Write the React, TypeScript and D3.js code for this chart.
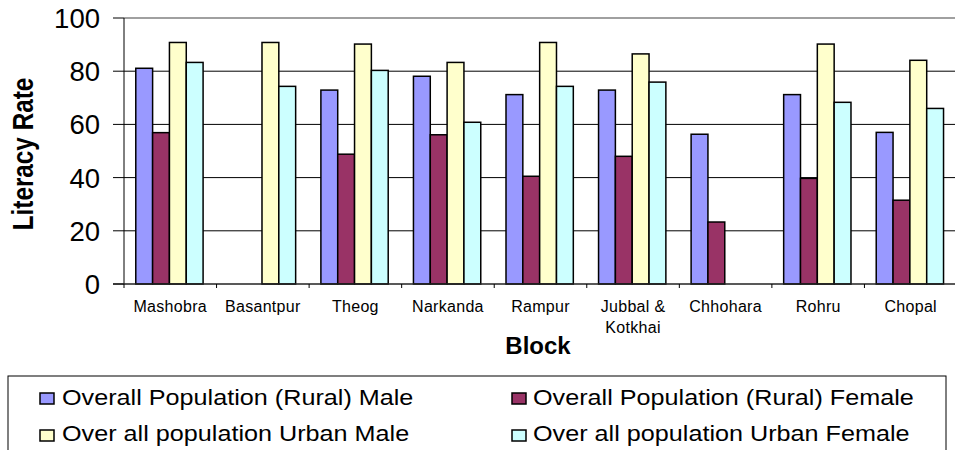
import * as d3 from "d3";
import React from "react";

const blocks = ["Mashobra", "Basantpur", "Theog", "Narkanda", "Rampur", "Jubbal & Kotkhai", "Chhohara", "Rohru", "Chopal"];
const ruralMale = [81.1, null, 72.9, 78.1, 71.2, 72.9, 56.3, 71.2, 57.0];
const ruralFemale = [56.9, null, 48.8, 56.1, 40.5, 48.0, 23.3, 39.7, 31.5];
const urbanMale = [90.8, 90.8, 90.2, 83.3, 90.8, 86.5, null, 90.2, 84.1];
const urbanFemale = [83.3, 74.3, 80.3, 60.8, 74.3, 75.9, null, 68.3, 66.0];
const seriesNames = [
  "Overall Population (Rural) Male",
  "Overall Population (Rural) Female",
  "Over all population Urban Male",
  "Over all population Urban Female",
];
const yTicks = [0, 20, 40, 60, 80, 100];

const colors = ["#9999ff", "#993366", "#ffffcc", "#ccffff"];
const font = "'Liberation Sans', Arial, sans-serif";

const App = () => {
  const width = 955;
  const height = 450;
  const margin = { top: 18, right: -2, bottom: 166, left: 124 };
  const series = [ruralMale, ruralFemale, urbanMale, urbanFemale];

  const xScale = d3
    .scaleBand()
    .domain(blocks)
    .range([margin.left, width - margin.right])
    .padding(0);
  const band = xScale.bandwidth();
  const barW = band / 5.5;
  const inner = d3
    .scaleBand()
    .domain(d3.range(series.length).map(String))
    .range([band * 0.7 / 5.5, band - band * 0.8 / 5.5]);

  const yScale = d3
    .scaleLinear()
    .domain([0, 100])
    .range([height - margin.bottom, margin.top]);

  const x0 = margin.left;
  const x1 = width - margin.right;

  return (
    <svg width={width} height={height} style={{ position: "absolute", left: 0, top: 0, background: "#fff" }}>
      {/* grid */}
      {yTicks.filter((t) => t > 0 && t < 100).map((t) => (
        <line key={t} x1={x0} x2={x1} y1={yScale(t)} y2={yScale(t)} stroke="#000" strokeWidth={1} />
      ))}
      <line x1={x0} x2={x1} y1={yScale(100)} y2={yScale(100)} stroke="#808080" strokeWidth={1.5} />

      {/* bars */}
      {series.map((vals, si) =>
        vals.map((v, i) =>
          v == null ? null : (
            <rect
              key={si + "-" + i}
              x={xScale(blocks[i])! + inner(String(si))!}
              y={yScale(v)}
              width={barW}
              height={yScale(0) - yScale(v)}
              fill={colors[si]}
              stroke="#000"
              strokeWidth={1.5}
            />
          )
        )
      )}

      {/* y axis */}
      <line x1={x0} x2={x0} y1={yScale(100)} y2={yScale(0)} stroke="#000" strokeWidth={1} />
      {yTicks.map((t) => (
        <g key={t}>
          <line x1={x0 - 11} x2={x0} y1={yScale(t)} y2={yScale(t)} stroke="#000" />
          <text x={100} y={yScale(t)} dy="0.36em" textAnchor="end" fontFamily={font} fontSize={27.5}>
            {t}
          </text>
        </g>
      ))}

      {/* x axis */}
      <line x1={x0 - 11} x2={x1} y1={yScale(0)} y2={yScale(0)} stroke="#222" strokeWidth={1.5} />
      {blocks.map((b) => (
        <line key={b} x1={xScale(b)!} x2={xScale(b)!} y1={yScale(0)} y2={yScale(0) + 4} stroke="#000" />
      ))}
      {blocks.map((b) => {
        const lines = b === "Jubbal & Kotkhai" ? ["Jubbal &", "Kotkhai"] : [b];
        return lines.map((l, li) => (
          <text
            key={b + li}
            x={xScale(b)! + band / 2}
            y={312 + li * 21}
            textAnchor="middle"
            fontFamily={font}
            fontSize={16}
            letterSpacing={0.3}
          >
            {l}
          </text>
        ));
      })}

      {/* axis titles */}
      <text x={538} y={354} textAnchor="middle" fontFamily={font} fontWeight="bold" fontSize={24}>
        Block
      </text>
      <text
        transform={`translate(33,154) rotate(-90) scale(0.9,1.1)`}
        textAnchor="middle"
        fontFamily={font}
        fontWeight="bold"
        fontSize={27}
      >
        Literacy Rate
      </text>

      {/* legend */}
      <rect x={8} y={376} width={938} height={80} fill="#fff" stroke="#000" strokeWidth={1} />
      {seriesNames.map((name, i) => {
        const col = i % 2;
        const row = Math.floor(i / 2);
        const sx = col === 0 ? 40 : 512;
        const tx = col === 0 ? 62 : 533;
        const sy = row === 0 ? 393 : 430;
        const ty = row === 0 ? 405 : 441;
        return (
          <g key={name}>
            <rect x={sx} y={sy} width={14} height={11} fill={colors[i]} stroke="#000" strokeWidth={1.5} />
            <text transform={`translate(${tx},${ty}) scale(1.12,1)`} fontFamily={font} fontSize={22.5}>
              {name}
            </text>
          </g>
        );
      })}
    </svg>
  );
};

export default App;
